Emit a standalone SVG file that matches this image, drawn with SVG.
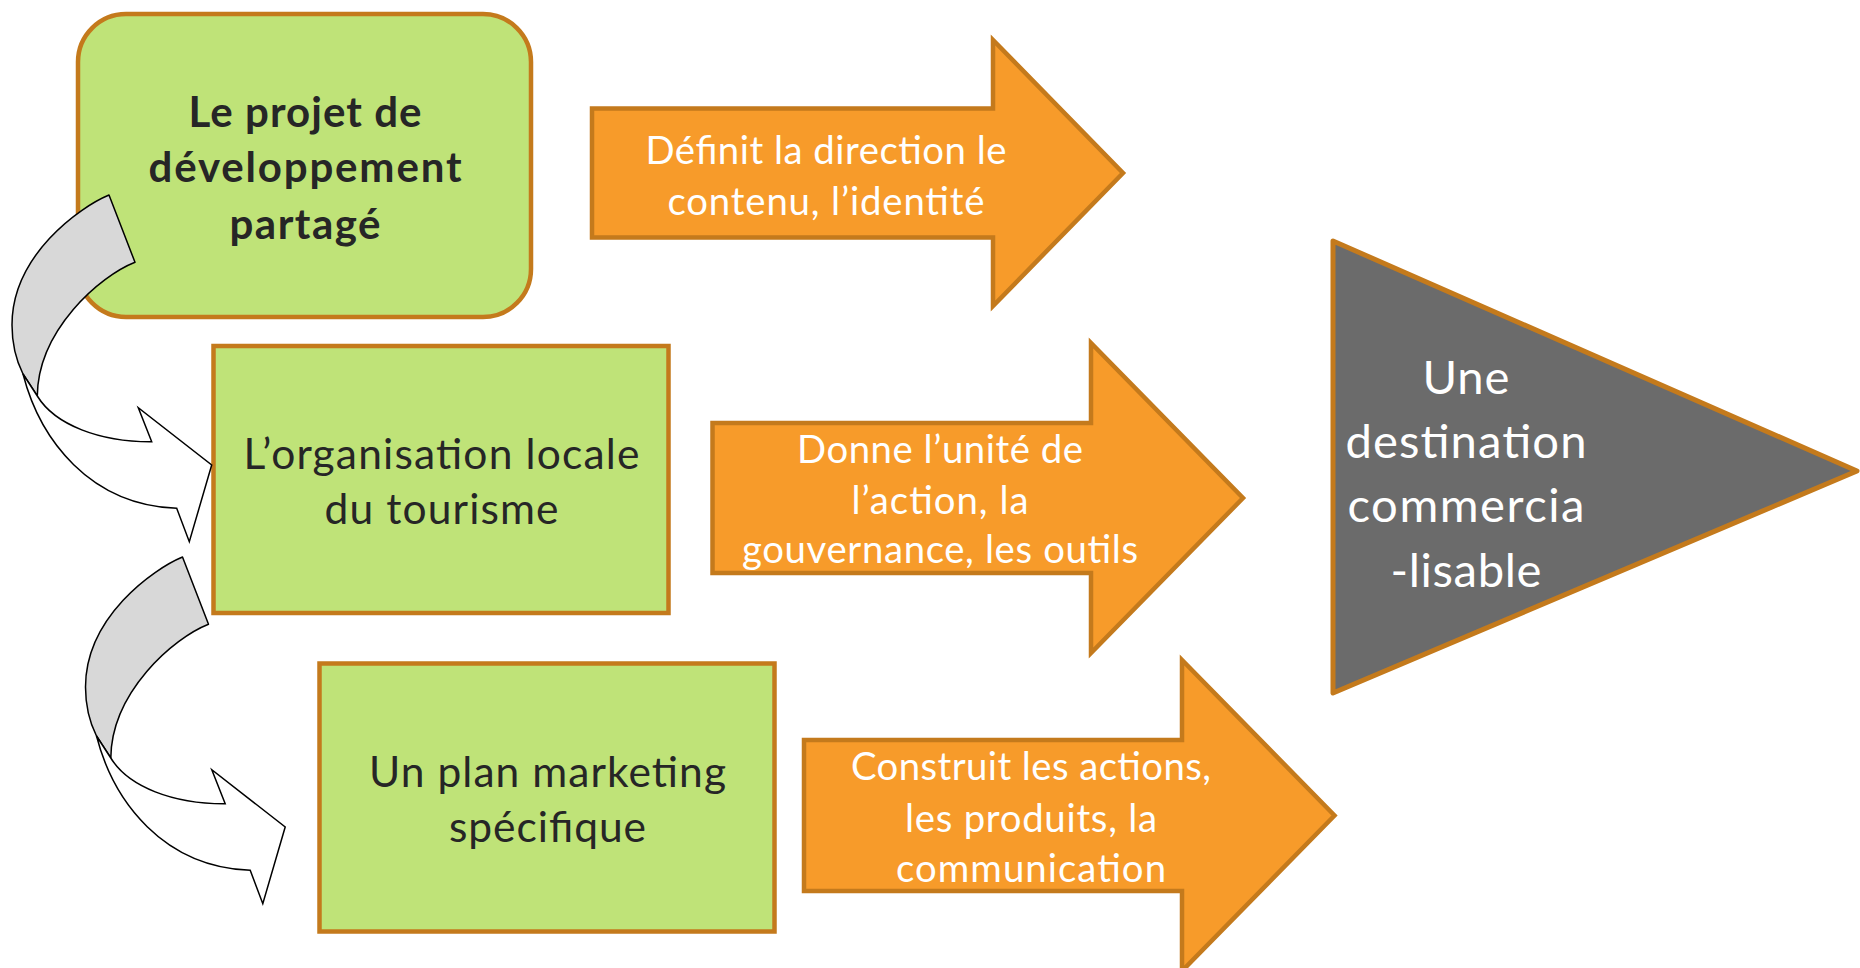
<svg xmlns="http://www.w3.org/2000/svg" xmlns:xlink="http://www.w3.org/1999/xlink" width="1860" height="968" viewBox="0 0 1860 968">
  <style>
    .box { fill: #BFE378; stroke: #C47A1C; stroke-width: 4.5; }
    .flow { fill: #F79B2A; stroke: #C47A1C; stroke-width: 4.5; stroke-linejoin: miter; }
    .goal { fill: #6B6B6B; stroke: #C47A1C; stroke-width: 5; stroke-linejoin: round; }
    .lbl { font-family: Lato, "Liberation Sans", sans-serif; text-anchor: middle; }
    .dark { fill: #262626; font-size: 42.5px; }
    .strong { font-weight: 700; font-size: 42px; }
    .light { fill: #FFFFFF; font-size: 38.3px; }
    .big { fill: #FFFFFF; font-size: 47.2px; }
    .bend-back { fill: #D8D8D8; stroke: #000000; stroke-width: 1.5; stroke-linejoin: round; }
    .bend-front { fill: #FFFFFF; stroke: #000000; stroke-width: 1.5; stroke-linejoin: miter; }
  </style>
  <defs>
    <!-- curved arrow turning right, drawn at its first position -->
    <g id="bend">
      <path class="bend-back" d="M109,195 C80,207 12,255 12,325 C12,345 16,360 23,374 L37.3,396 C38,330 100,276 135,262.3 Z"/>
      <path class="bend-front" d="M23,374 C40,440 90,505 176.7,508.3 L189.3,541.7 L211.7,465 L138.3,407.7 L151.7,441.7 C100,442 55,425 37.3,396 Z"/>
    </g>
  </defs>

  <rect width="1860" height="968" fill="#FFFFFF"/>

  <g id="node-projet">
    <rect class="box" x="78" y="14" width="453" height="303" rx="48" ry="48"/>
    <text class="lbl dark strong"><tspan x="305" y="127" textLength="233">Le projet de</tspan><tspan x="305" y="182" textLength="313">développement</tspan><tspan x="305" y="239" textLength="151">partagé</tspan></text>
  </g>

  <g id="node-organisation">
    <rect class="box" x="213.5" y="346" width="455" height="267"/>
    <text class="lbl dark"><tspan x="441.5" y="469" textLength="396">L’organisation locale</tspan><tspan x="441.5" y="524" textLength="234">du tourisme</tspan></text>
  </g>

  <g id="node-marketing">
    <rect class="box" x="319.5" y="663.5" width="455" height="268"/>
    <text class="lbl dark"><tspan x="547.5" y="786.5" textLength="357">Un plan marketing</tspan><tspan x="547.5" y="842" textLength="197">spécifique</tspan></text>
  </g>

  <g id="node-direction">
    <path class="flow" d="M592,108.5 H993 V40 L1123,173 L993,306 V237.5 H592 Z"/>
    <text class="lbl light"><tspan x="826" y="164" textLength="361">Définit la direction le</tspan><tspan x="826" y="215" textLength="317">contenu, l’identité</tspan></text>
  </g>

  <g id="node-unite">
    <path class="flow" d="M712.5,423 H1091 V343 L1243,498 L1091,653 V573 H712.5 Z"/>
    <text class="lbl light"><tspan x="940" y="463" textLength="286">Donne l’unité de</tspan><tspan x="940" y="514" textLength="177">l’action, la</tspan><tspan x="940" y="563" textLength="396">gouvernance, les outils</tspan></text>
  </g>

  <g id="node-actions">
    <path class="flow" d="M804,740 H1182 V660 L1334.5,815.5 L1182,971 V891 H804 Z"/>
    <text class="lbl light"><tspan x="1031" y="780" textLength="360">Construit les actions,</tspan><tspan x="1031" y="831.5" textLength="252">les produits, la</tspan><tspan x="1031" y="882" textLength="270">communication</tspan></text>
  </g>

  <g id="node-destination">
    <path class="goal" d="M1333,241 L1857,471 L1333,693 Z"/>
    <text class="lbl big"><tspan x="1466" y="394" textLength="87">Une</tspan><tspan x="1466" y="458" textLength="241">destination</tspan><tspan x="1466" y="522" textLength="237">commercia</tspan><tspan x="1466" y="586.5" textLength="151">-lisable</tspan></text>
  </g>

  <g id="connectors">
    <use xlink:href="#bend"/>
    <use xlink:href="#bend" transform="translate(73.5,362)"/>
  </g>
</svg>
